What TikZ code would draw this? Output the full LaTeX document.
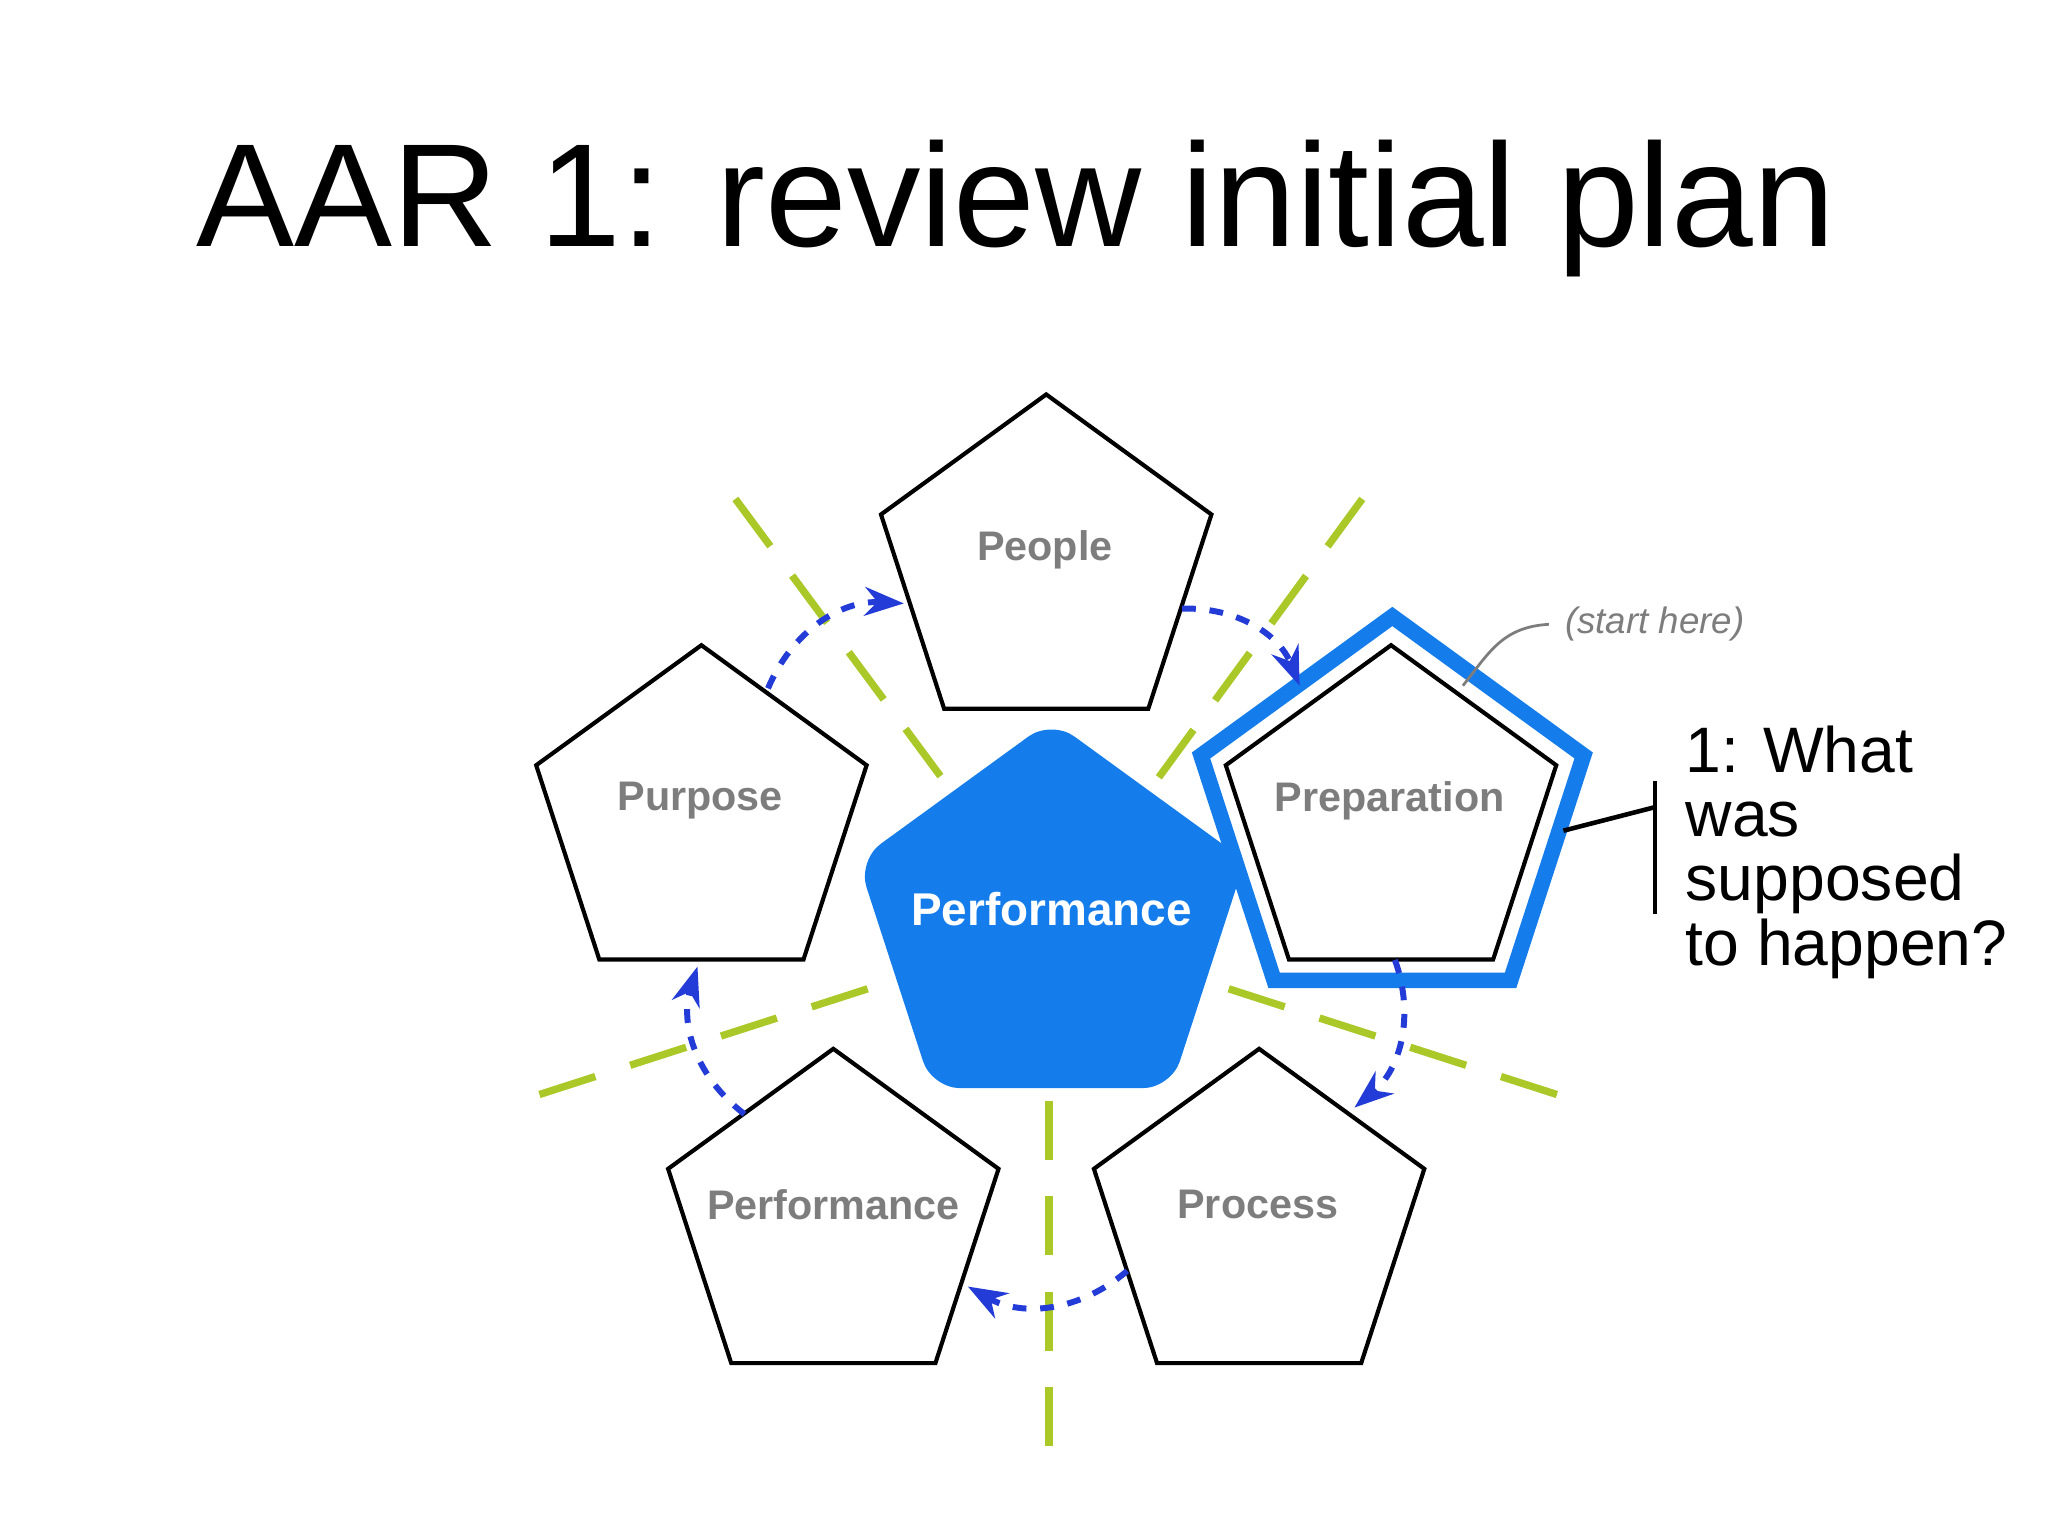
\documentclass[tikz,border=0pt]{standalone}
\usepackage{fontspec}
\setmainfont{Liberation Sans}
\usetikzlibrary{shapes.geometric,arrows.meta}
\definecolor{pblue}{RGB}{20,125,235}
\definecolor{dblue}{RGB}{35,60,215}
\definecolor{lgreen}{RGB}{170,200,40}
\definecolor{lgray}{RGB}{125,125,125}
\tikzset{
 pent/.style={regular polygon,regular polygon sides=5,minimum size=2.66cm,inner sep=0pt,draw=black,line width=0.9pt,fill=white},
 plabel/.style={text=lgray,font=\bfseries\fontsize{9}{11}\selectfont},
 guide/.style={draw=lgreen,dash pattern=on 0.45cm off 0.28cm,line width=1.6pt},
 cyc/.style={draw=dblue,dashed,line width=1.3pt,-{Stealth[length=0.3cm,width=0.22cm]},bend left=35}
}
\begin{document}
\begin{tikzpicture}
\useasboundingbox (0,0) rectangle (15.68,-11.76);
\fill[white] (0,0) rectangle (15.68,-11.76);
% guides
\coordinate (g1a) at (5.63,-3.82); \coordinate (g1b) at (7.28,-6.05);
\coordinate (g2a) at (10.43,-3.82); \coordinate (g2b) at (8.80,-6.05);
\coordinate (g3a) at (4.13,-8.38); \coordinate (g3b) at (6.80,-7.52);
\coordinate (g4a) at (11.92,-8.38); \coordinate (g4b) at (9.25,-7.52);
\coordinate (g5a) at (8.03,-8.43); \coordinate (g5b) at (8.03,-11.2);
\foreach \a/\b in {g1a/g1b,g2a/g2b,g3a/g3b,g4a/g4b,g5a/g5b} \draw[guide] (\a)--(\b);
% pentagons
\node[pent] (peo) at (8.01,-4.35) {};
\node[pent] (pur) at (5.37,-6.27) {};
\node[pent] (pre) at (10.65,-6.27) {};
\node[pent] (per) at (6.38,-9.36) {};
\node[pent] (pro) at (9.64,-9.36) {};
\node[plabel] at (8.00,-4.21) {People};
\node[plabel] at (5.36,-6.13) {Purpose};
\node[plabel] at (10.64,-6.13) {Preparation};
\node[plabel] at (6.38,-9.22) {Performance};
\node[plabel] at (9.63,-9.22) {Process};
% highlight
\node[regular polygon,regular polygon sides=5,minimum size=3.08cm,inner sep=0pt,draw=pblue,line width=3.4pt] (hl) at (10.66,-6.26) {};
% central
\node[regular polygon,regular polygon sides=5,minimum size=3.1cm,inner sep=0pt,fill=pblue,draw=pblue,rounded corners=6pt] (cen) at (8.05,-7.07) {};
\node[text=white,font=\bfseries\fontsize{10}{12}\selectfont] at (8.05,-6.96) {Performance};
% cycle arrows
\coordinate (a1) at (5.88,-5.27); \coordinate (a2) at (6.92,-4.62);
\coordinate (b1) at (9.05,-4.66); \coordinate (b2) at (9.95,-5.25);
\coordinate (c1) at (10.68,-7.35); \coordinate (c2) at (10.37,-8.48);
\coordinate (d1) at (8.63,-9.73); \coordinate (d2) at (7.41,-9.85);
\coordinate (e1) at (5.70,-8.53); \coordinate (e2) at (5.34,-7.40);
\draw[cyc] (a1) to (a2);
\draw[cyc] (b1) to (b2);
\draw[cyc] (c1) to (c2);
\draw[cyc] (d1) to (d2);
\draw[cyc] (e1) to (e2);
% start here
\node[text=lgray,font=\itshape\fontsize{8}{10}\selectfont] (st) at (12.67,-4.78) {(start here)};
\draw[lgray,line width=0.6pt] (st.west) .. controls (11.5,-4.8) and (11.4,-5.0) .. (11.2,-5.25);
% title
\node[font=\fontsize{32}{38}\selectfont] (title) at (7.78,-1.6) {AAR 1: review initial plan};
% question
\node[anchor=north west,align=left,font=\fontsize{14}{14}\selectfont,inner sep=0pt] (q) at (12.90,-5.55) {1: What\\was\\supposed\\to happen?};
\coordinate (br1) at (12.67,-5.98); \coordinate (br2) at (12.67,-7.00);
\coordinate (brm) at (12.67,-6.18); \coordinate (brs) at (11.97,-6.36);
\draw[line width=1pt] (br1)--(br2);
\draw[line width=1pt] (brs)--(brm);
\end{tikzpicture}
\end{document}
